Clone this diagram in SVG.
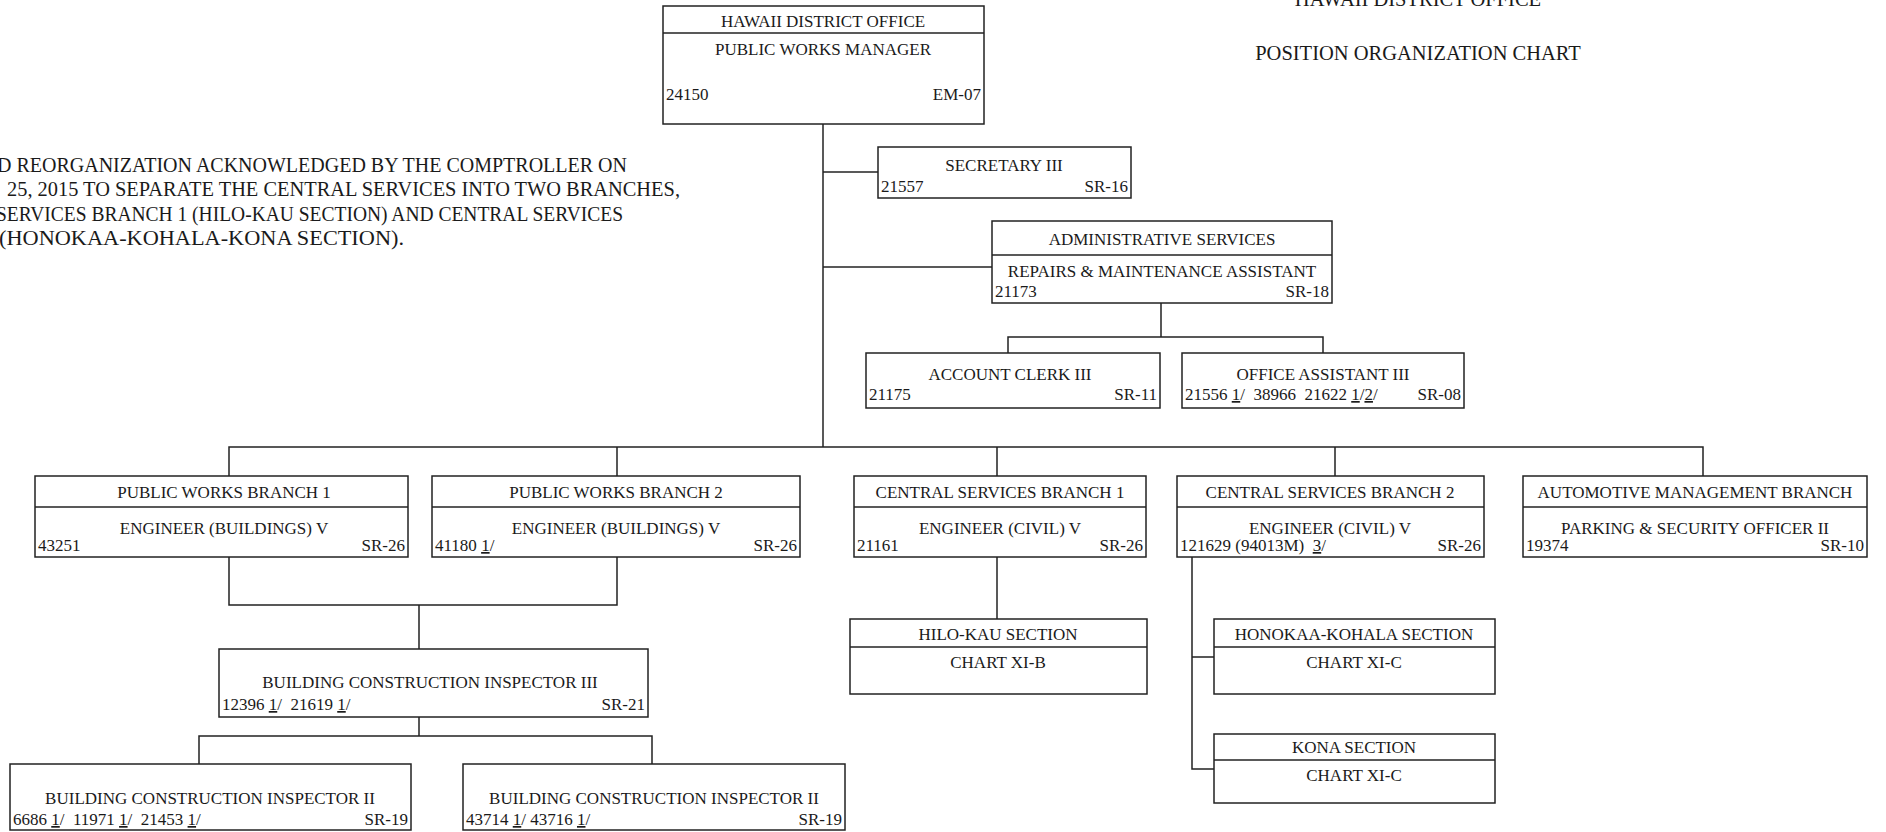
<svg xmlns="http://www.w3.org/2000/svg" width="1886" height="832" viewBox="0 0 1886 832">
<style>
.bx{fill:none;stroke:#222;stroke-width:1.5}
.dv{stroke:#222;stroke-width:1.5}
.con{fill:none;stroke:#222;stroke-width:1.5}
text{font-family:"Liberation Serif","Times New Roman",serif;font-size:17px;fill:#1a1a1a}
.c{text-anchor:middle}
.r{text-anchor:end}
.big{font-size:20px}
.ttl{font-size:20.5px}
.u{text-decoration:underline}
</style>
<rect x="0" y="0" width="1886" height="832" fill="#ffffff"/>

<g id="note">
<text class="big" x="-3" y="172">D REORGANIZATION ACKNOWLEDGED BY THE COMPTROLLER ON</text>
<text class="big" x="7" y="196" textLength="673" lengthAdjust="spacingAndGlyphs">25, 2015 TO SEPARATE THE CENTRAL SERVICES INTO TWO BRANCHES,</text>
<text class="big" x="-4" y="221" textLength="627" lengthAdjust="spacingAndGlyphs">SERVICES BRANCH 1 (HILO-KAU SECTION) AND CENTRAL SERVICES</text>
<text class="big" x="-1" y="245" textLength="405" lengthAdjust="spacingAndGlyphs">(HONOKAA-KOHALA-KONA SECTION).</text>
</g>

<g id="title">
<text class="ttl c" x="1418" y="6">HAWAII DISTRICT OFFICE</text>
<text class="ttl c" x="1418" y="60">POSITION ORGANIZATION CHART</text>
</g>

<g id="connectors">
<path class="con" d="M823,124 V447"/>
<path class="con" d="M823,172 H878"/>
<path class="con" d="M823,267 H992"/>
<path class="con" d="M1161,303 V337 M1008,353 V337 H1323 V353"/>
<path class="con" d="M229,476 V447 H1703 V476 M617,447 V476 M997,447 V476 M1335,447 V476"/>
<path class="con" d="M229,557 V605 H617 V557 M419,605 V649"/>
<path class="con" d="M419,717 V736 M199,764 V736 H652 V764"/>
<path class="con" d="M997,557 V619"/>
<path class="con" d="M1192,557 V769 H1214 M1192,657 H1214"/>
</g>

<g id="n_manager">
<rect class="bx" x="663" y="6" width="321" height="118"/>
<line class="dv" x1="663" y1="33" x2="984" y2="33"/>
<text class="c" x="823" y="27">HAWAII DISTRICT OFFICE</text>
<text class="c" x="823" y="55">PUBLIC WORKS MANAGER</text>
<text x="666" y="100">24150</text>
<text class="r" x="981" y="100">EM-07</text>
</g>

<g id="n_secretary">
<rect class="bx" x="878" y="147" width="253" height="51"/>
<text class="c" x="1004" y="171">SECRETARY III</text>
<text x="881" y="192">21557</text>
<text class="r" x="1128" y="192">SR-16</text>
</g>

<g id="n_admin">
<rect class="bx" x="992" y="221" width="340" height="82"/>
<line class="dv" x1="992" y1="255" x2="1332" y2="255"/>
<text class="c" x="1162" y="245">ADMINISTRATIVE SERVICES</text>
<text class="c" x="1162" y="277">REPAIRS &amp; MAINTENANCE ASSISTANT</text>
<text x="995" y="297">21173</text>
<text class="r" x="1329" y="297">SR-18</text>
</g>

<g id="n_account">
<rect class="bx" x="866" y="353" width="294" height="55"/>
<text class="c" x="1010" y="380">ACCOUNT CLERK III</text>
<text x="869" y="400">21175</text>
<text class="r" x="1157" y="400">SR-11</text>
</g>

<g id="n_office">
<rect class="bx" x="1182" y="353" width="282" height="55"/>
<text class="c" x="1323" y="380">OFFICE ASSISTANT III</text>
<text x="1185" y="400" xml:space="preserve">21556 <tspan class="u">1</tspan>/  38966  21622 <tspan class="u">1</tspan>/<tspan class="u">2</tspan>/</text>
<text class="r" x="1461" y="400">SR-08</text>
</g>

<g id="n_pw1">
<rect class="bx" x="35" y="476" width="373" height="81"/>
<line class="dv" x1="35" y1="507" x2="408" y2="507"/>
<text class="c" x="224" y="498">PUBLIC WORKS BRANCH 1</text>
<text class="c" x="224" y="534">ENGINEER (BUILDINGS) V</text>
<text x="38" y="551">43251</text>
<text class="r" x="405" y="551">SR-26</text>
</g>

<g id="n_pw2">
<rect class="bx" x="432" y="476" width="368" height="81"/>
<line class="dv" x1="432" y1="507" x2="800" y2="507"/>
<text class="c" x="616" y="498">PUBLIC WORKS BRANCH 2</text>
<text class="c" x="616" y="534">ENGINEER (BUILDINGS) V</text>
<text x="435" y="551" xml:space="preserve">41180 <tspan class="u">1</tspan>/</text>
<text class="r" x="797" y="551">SR-26</text>
</g>

<g id="n_cs1">
<rect class="bx" x="854" y="476" width="292" height="81"/>
<line class="dv" x1="854" y1="507" x2="1146" y2="507"/>
<text class="c" x="1000" y="498">CENTRAL SERVICES BRANCH 1</text>
<text class="c" x="1000" y="534">ENGINEER (CIVIL) V</text>
<text x="857" y="551">21161</text>
<text class="r" x="1143" y="551">SR-26</text>
</g>

<g id="n_cs2">
<rect class="bx" x="1177" y="476" width="307" height="81"/>
<line class="dv" x1="1177" y1="507" x2="1484" y2="507"/>
<text class="c" x="1330" y="498">CENTRAL SERVICES BRANCH 2</text>
<text class="c" x="1330" y="534">ENGINEER (CIVIL) V</text>
<text x="1180" y="551" xml:space="preserve">121629 (94013M)  <tspan class="u">3</tspan>/</text>
<text class="r" x="1481" y="551">SR-26</text>
</g>

<g id="n_auto">
<rect class="bx" x="1523" y="476" width="344" height="81"/>
<line class="dv" x1="1523" y1="507" x2="1867" y2="507"/>
<text class="c" x="1695" y="498">AUTOMOTIVE MANAGEMENT BRANCH</text>
<text class="c" x="1695" y="534">PARKING &amp; SECURITY OFFICER II</text>
<text x="1526" y="551">19374</text>
<text class="r" x="1864" y="551">SR-10</text>
</g>

<g id="n_bci3">
<rect class="bx" x="219" y="649" width="429" height="68"/>
<text class="c" x="430" y="688">BUILDING CONSTRUCTION INSPECTOR III</text>
<text x="222" y="710" xml:space="preserve">12396 <tspan class="u">1</tspan>/  21619 <tspan class="u">1</tspan>/</text>
<text class="r" x="645" y="710">SR-21</text>
</g>

<g id="n_bci2a">
<rect class="bx" x="10" y="764" width="401" height="66"/>
<text class="c" x="210" y="804">BUILDING CONSTRUCTION INSPECTOR II</text>
<text x="13" y="825" xml:space="preserve">6686 <tspan class="u">1</tspan>/  11971 <tspan class="u">1</tspan>/  21453 <tspan class="u">1</tspan>/</text>
<text class="r" x="408" y="825">SR-19</text>
</g>

<g id="n_bci2b">
<rect class="bx" x="463" y="764" width="382" height="66"/>
<text class="c" x="654" y="804">BUILDING CONSTRUCTION INSPECTOR II</text>
<text x="466" y="825" xml:space="preserve">43714 <tspan class="u">1</tspan>/ 43716 <tspan class="u">1</tspan>/</text>
<text class="r" x="842" y="825">SR-19</text>
</g>

<g id="n_hilo">
<rect class="bx" x="850" y="619" width="297" height="75"/>
<line class="dv" x1="850" y1="647" x2="1147" y2="647"/>
<text class="c" x="998" y="640">HILO-KAU SECTION</text>
<text class="c" x="998" y="668">CHART XI-B</text>
</g>

<g id="n_honokaa">
<rect class="bx" x="1214" y="619" width="281" height="75"/>
<line class="dv" x1="1214" y1="647" x2="1495" y2="647"/>
<text class="c" x="1354" y="640">HONOKAA-KOHALA SECTION</text>
<text class="c" x="1354" y="668">CHART XI-C</text>
</g>

<g id="n_kona">
<rect class="bx" x="1214" y="734" width="281" height="69"/>
<line class="dv" x1="1214" y1="760" x2="1495" y2="760"/>
<text class="c" x="1354" y="753">KONA SECTION</text>
<text class="c" x="1354" y="781">CHART XI-C</text>
</g>
</svg>
